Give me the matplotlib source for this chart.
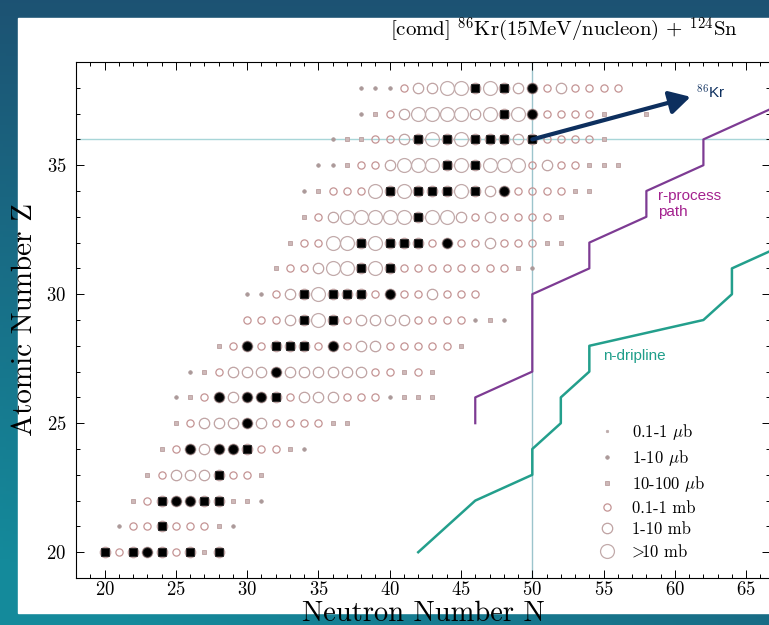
import numpy as np
import matplotlib
matplotlib.use('Agg')
import matplotlib.pyplot as plt
from matplotlib.lines import Line2D
from matplotlib.patches import Rectangle
from matplotlib.ticker import MultipleLocator

plt.rcParams['font.family'] = ['cmr10', 'DejaVu Serif']
plt.rcParams['mathtext.fontset'] = 'cm'
plt.rcParams['axes.formatter.use_mathtext'] = True

# ---------------- data ----------------
# cross-section class per nuclide, one row per Z, starting at row_first_N
# a: 0.1-1 ub, b: 1-10 ub, c: 10-100 ub, d: 0.1-1 mb, e: 1-10 mb, f: >10 mb
# S: black square, K: black circle, -: none
row_Z = [20, 21, 22, 23, 24, 25, 26, 27, 28, 29, 30, 31, 32, 33, 34, 35, 36, 37, 38]
row_first_N = [20, 21, 22, 23, 24, 25, 25, 26, 28, 30, 30, 32, 33, 34, 34, 35, 36, 38, 38]
codes_Z20 = "SdSKSdScS"
codes_Z21 = "bddSdddcb"
codes_Z22 = "cdSKKSSccb"
codes_Z23 = "cdeeeSddc"
codes_Z24 = "cdKeKKSddcb"
codes_Z25 = "cdeeeKeddddcc"
codes_Z26 = "bcdKeKKSdeeedddbccc"
codes_Z27 = "bcdeeeKeeeeeeddcdc"
codes_Z28 = "cdKdSSSdKdeedddddc"
codes_Z29 = "dddeSfSdeeeeddddbcb"
codes_Z30 = "bbdeSfSSSdKddeddd"
codes_Z31 = "cddeffSfSddddddddcb"
codes_Z32 = "cddffSfSSSdKddedddcc"
codes_Z33 = "cdefffffSffededdddc"
codes_Z34 = "bcdddfSfSSSfSeKddddcc"
codes_Z35 = "bbcddefffSfSfffdeddccc"
codes_Z36 = "bccddeSfSfSSSeSddddc"
codes_Z37 = "bcdeffffefSfKddddc--c"
codes_Z38 = "bbbdeeffSfSeKdedddd"
row_codes = [codes_Z20, codes_Z21, codes_Z22, codes_Z23, codes_Z24, codes_Z25,
             codes_Z26, codes_Z27, codes_Z28, codes_Z29, codes_Z30, codes_Z31,
             codes_Z32, codes_Z33, codes_Z34, codes_Z35, codes_Z36, codes_Z37,
             codes_Z38]

legend_labels = [r"0.1-1 $\mu$b", r"1-10 $\mu$b", r"10-100 $\mu$b",
                 "0.1-1 mb", "1-10 mb", r"$\!\!>\!\!$10 mb"]

rproc_N = [46, 46, 50, 50, 54, 54, 58, 58, 62, 62, 68]
rproc_Z = [25, 26, 27, 30, 31, 32, 33, 34, 35, 36, 37.5]
ndrip_N = [42, 46, 50, 50, 52, 52, 54, 54, 62, 64, 64, 68]
ndrip_Z = [20, 22, 23, 24, 25, 26, 27, 28, 29, 30, 31, 32]

magic_N = 50
beam_Z = 36
beam_N = 50
arrow_tip = (61.1, 37.65)

# ---------------- styles ----------------
styles = {
    'a': dict(marker='o', ms=1.8, mfc='#bba9a9', mec='#bba9a9', mew=0.5),
    'b': dict(marker='o', ms=2.6, mfc='#ab9999', mec='#ab9999', mew=0.5),
    'c': dict(marker='s', ms=3.2, mfc='#cdb8b8', mec='#bb9f9f', mew=0.6),
    'd': dict(marker='o', ms=5.2, mfc='none', mec='#c49494', mew=0.9),
    'e': dict(marker='o', ms=7.5, mfc='none', mec='#bfa2a2', mew=0.9),
    'f': dict(marker='o', ms=10.0, mfc='none', mec='#c2abab', mew=0.9),
    'S': dict(marker='s', ms=6.0, mfc='black', mec='#222222', mew=0.6),
    'K': dict(marker='o', ms=6.6, mfc='black', mec='#222222', mew=0.6),
}

# ---------------- figure ----------------
W, H = 769, 625
fig = plt.figure(figsize=(W / 100, H / 100), dpi=100)

# gradient frame
bg = fig.add_axes([0, 0, 1, 1], zorder=-10)
yy, xx = np.mgrid[0:1:200j, 0:1:240j]
w = np.clip(0.15 + 0.95 * yy - 0.55 * xx * yy, 0, 1)[..., None]
blue = np.array([30, 73, 108]) / 255
teal = np.array([20, 138, 155]) / 255
img = blue * (1 - w) + teal * w
bg.imshow(img, aspect='auto', extent=[0, 1, 0, 1], origin='upper')
bg.add_patch(Rectangle((18 / W, 12 / H), 1, (613 - 18) / H, color='white'))
bg.set_xlim(0, 1)
bg.set_ylim(0, 1)
bg.axis('off')

x_left, x_right = 18, 66.67
ax = fig.add_axes([76 / W, 47 / H, (770 - 76) / W, 516 / H])
ax.set_facecolor('white')
ax.set_xlim(x_left, x_right)
ax.set_ylim(19, 39)

ax.axvline(magic_N, color='#9cc4cc', lw=1.0, zorder=1)
ax.axhline(beam_Z, color='#a8d6d8', lw=1.0, zorder=1)

groups = {k: ([], []) for k in styles}
for Z, N0, codes in zip(row_Z, row_first_N, row_codes):
    for i, ch in enumerate(codes):
        if ch == '-':
            continue
        groups[ch][0].append(N0 + i)
        groups[ch][1].append(Z)
        if ch in 'SK':
            groups['e'][0].append(N0 + i)
            groups['e'][1].append(Z)

for k in ['a', 'b', 'c', 'd', 'e', 'f', 'S', 'K']:
    xs, ys = groups[k]
    ax.plot(xs, ys, ls='none', zorder=3 if k in 'SK' else 2, **styles[k])

ax.plot(rproc_N, rproc_Z, color='#7d3b93', lw=1.6, zorder=4)
ax.plot(ndrip_N, ndrip_Z, color='#239f8c', lw=1.8, zorder=4)

ax.annotate('', xy=arrow_tip, xytext=(beam_N, beam_Z),
            arrowprops=dict(arrowstyle='-|>,head_length=0.9,head_width=0.5',
                            lw=3, color='#0d2f5e', shrinkA=0, shrinkB=0,
                            mutation_scale=14), zorder=5)
ax.text(61.45, 37.8, r'$^{\mathsf{86}}$Kr', family=['Liberation Sans'],
        fontsize=11, color='#0d2f5e', ha='left', va='center')
ax.text(58.8, 33.5, 'r-process\npath', family=['Liberation Sans'],
        fontsize=11, color='#a3218e', ha='left', va='center', linespacing=1.15)
ax.text(54.95, 27.6, 'n-dripline', family=['Liberation Sans'],
        fontsize=11, color='#1f9e8a', ha='left', va='center')

# legend
handles = [Line2D([], [], ls='none', **styles[k]) for k in 'abcdef']
ax.legend(handles, legend_labels, loc='upper left', bbox_to_anchor=(0.741, 0.318),
          frameon=False, fontsize=12, handlelength=1.0, handletextpad=1.0,
          labelspacing=0.36, borderpad=0)

ax.xaxis.set_major_locator(MultipleLocator(5))
ax.xaxis.set_minor_locator(MultipleLocator(1))
ax.yaxis.set_major_locator(MultipleLocator(5))
ax.yaxis.set_minor_locator(MultipleLocator(1))
ax.tick_params(which='both', direction='in', top=True, right=True, labelsize=13.5,
               width=0.7)
ax.tick_params(which='major', length=6)
ax.tick_params(axis='x', which='major', pad=2.5)
ax.tick_params(axis='y', which='major', pad=7)
ax.tick_params(which='minor', length=3)
for sp in ax.spines.values():
    sp.set_linewidth(0.8)

ax.set_xlabel('Neutron Number N', fontsize=20.5, labelpad=1)
ax.set_ylabel('Atomic Number Z', fontsize=21, labelpad=6)

fig.text(564 / W, 1 - 30 / H, r'[comd] $^{86}$Kr(15MeV/nucleon) + $^{124}$Sn',
         fontsize=15, ha='center', va='center')

fig.savefig('out.png', dpi=100)
